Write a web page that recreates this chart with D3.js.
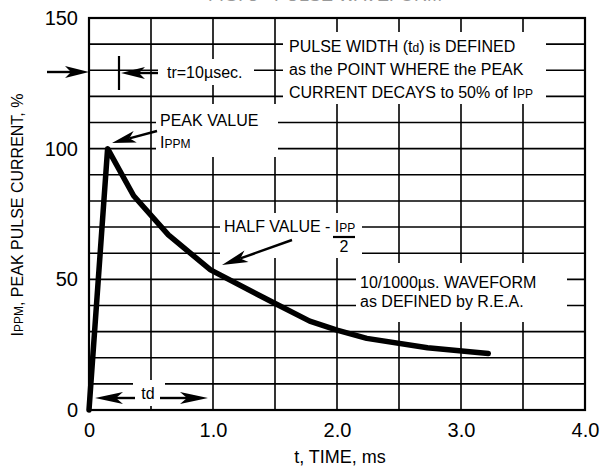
<!DOCTYPE html>
<html><head><meta charset="utf-8">
<script src="https://cdn.jsdelivr.net/npm/d3@7"></script>
<style>body{margin:0;background:#fff}svg{display:block;font-family:"Liberation Sans",Arial,sans-serif}</style>
</head><body><svg id="c" width="605" height="468"></svg>
<script>
const timeMs   = [0, 0.15, 0.36, 0.64, 0.98, 1.45, 1.78, 2.0, 2.24, 2.73, 3.22];
const current  = [0, 100, 82, 67, 53.6, 42, 34, 30.6, 27.4, 23.8, 21.6];
const xTicks = [0, 1, 2, 3, 4];
const xTickLabels = ["0", "1.0", "2.0", "3.0", "4.0"];
const yTicks = [0, 50, 100, 150];
const yTickLabels = ["0", "50", "100", "150"];
const xGrid = [0.5, 1, 1.5, 2, 2.5, 3, 3.5];
const yGrid = [10, 20, 30, 40, 50, 60, 70, 80, 90, 100, 110, 120, 130, 140];

const svg = d3.select("#c");
const x = d3.scaleLinear().domain([0, 4]).range([89, 585]);
const y = d3.scaleLinear().domain([0, 150]).range([410, 18]);

// cut-off title at top (as in the reference)
svg.append("text").attr("x", 325).attr("y", 1).attr("text-anchor", "middle")
  .attr("font-size", 18).attr("fill", "#999").text("FIG. 3 - PULSE WAVEFORM");

// grid
const g = svg.append("g").attr("stroke", "#000").attr("stroke-width", 1.6);
g.selectAll(".vx").data(xGrid).join("line")
  .attr("x1", d => x(d)).attr("x2", d => x(d)).attr("y1", y(150)).attr("y2", y(0));
g.selectAll(".hy").data(yGrid).join("line")
  .attr("y1", d => y(d)).attr("y2", d => y(d)).attr("x1", x(0)).attr("x2", x(4));

// white label boxes
const boxes = [
  [158, 59, 96, 26],    // tr
  [283, 32, 263, 72],   // pulse width
  [156, 104, 122, 53],  // peak value
  [220, 213, 142, 45],  // half value
  [356, 263, 211, 59],  // 10/1000
  [133, 380, 32, 26]    // td
];
svg.selectAll(".box").data(boxes).join("rect")
  .attr("x", d => d[0]).attr("y", d => d[1]).attr("width", d => d[2]).attr("height", d => d[3])
  .attr("fill", "#fff");

// border
svg.append("rect").attr("x", x(0)).attr("y", y(150)).attr("width", x(4) - x(0)).attr("height", y(0) - y(150))
  .attr("fill", "none").attr("stroke", "#000").attr("stroke-width", 2.2);

// curve
const line = d3.line().x((d, i) => x(timeMs[i])).y(d => y(d));
svg.append("path").attr("d", line(current)).attr("fill", "none").attr("stroke", "#000")
  .attr("stroke-width", 5.5).attr("stroke-linejoin", "round").attr("stroke-linecap", "round");

// axes
const xAxis = svg.append("g").attr("transform", `translate(0,${y(0) + 10})`)
  .call(d3.axisBottom(x).tickValues(xTicks).tickSize(0).tickFormat((d, i) => xTickLabels[i]));
xAxis.select(".domain").remove();
xAxis.selectAll("text").attr("font-size", 20).attr("fill", "#000").attr("font-family", "Liberation Sans, Arial, sans-serif");
const yAxis = svg.append("g").attr("transform", `translate(${x(0) - 8},0)`)
  .call(d3.axisLeft(y).tickValues(yTicks).tickSize(0).tickFormat((d, i) => yTickLabels[i]));
yAxis.select(".domain").remove();
yAxis.selectAll("text").attr("font-size", 20).attr("fill", "#000").attr("font-family", "Liberation Sans, Arial, sans-serif");

// axis titles
svg.append("text").attr("x", 340).attr("y", 463).attr("text-anchor", "middle").attr("font-size", 18).text("t, TIME, ms");
const yt = svg.append("text").attr("transform", "translate(23,215) rotate(-90)").attr("text-anchor", "middle").attr("font-size", 16);
yt.append("tspan").text("I");
yt.append("tspan").attr("font-size", 12).text("PPM");
yt.append("tspan").text(", PEAK PULSE CURRENT, %");

// arrow helper (notched head)
function arrow(x1, y1, x2, y2, len = 24, hw = 6) {
  const a = Math.atan2(y2 - y1, x2 - x1);
  const ca = Math.cos(a), sa = Math.sin(a);
  const bx = x2 - len * ca, by = y2 - len * sa;
  const nx = x2 - len * 0.75 * ca, ny = y2 - len * 0.75 * sa;
  svg.append("line").attr("x1", x1).attr("y1", y1).attr("x2", nx).attr("y2", ny)
    .attr("stroke", "#000").attr("stroke-width", 2.4);
  svg.append("path").attr("d",
    `M${x2},${y2}L${bx - hw * sa},${by + hw * ca}L${nx},${ny}L${bx + hw * sa},${by - hw * ca}Z`)
    .attr("fill", "#000");
}

// tr annotation
arrow(47, 72, 89, 72);
svg.append("line").attr("x1", 119).attr("x2", 119).attr("y1", 56).attr("y2", 90).attr("stroke", "#000").attr("stroke-width", 2.2);
arrow(158, 73, 121, 73);
svg.append("text").attr("x", 167).attr("y", 78).attr("font-size", 16).text("tr=10µsec.");

// pulse width
const pw = svg.append("text").attr("font-size", 16);
const l1 = pw.append("tspan").attr("x", 289).attr("y", 52);
l1.append("tspan").text("PULSE WIDTH (t");
l1.append("tspan").attr("font-size", 12).text("d");
l1.append("tspan").text(") is DEFINED");
pw.append("tspan").attr("x", 289).attr("y", 75).text("as the POINT WHERE the PEAK");
const l3 = pw.append("tspan").attr("x", 289).attr("y", 98);
l3.append("tspan").text("CURRENT DECAYS to 50% of I");
l3.append("tspan").attr("font-size", 12).text("PP");

// peak value
svg.append("text").attr("x", 160).attr("y", 126).attr("font-size", 16).text("PEAK VALUE");
const pk = svg.append("text").attr("x", 160).attr("y", 148).attr("font-size", 16);
pk.append("tspan").text("I");
pk.append("tspan").attr("font-size", 12).text("PPM");
arrow(157, 131, 112, 143, 24, 6);

// half value
const hv = svg.append("text").attr("x", 224).attr("y", 232).attr("font-size", 16);
hv.append("tspan").text("HALF VALUE - I");
hv.append("tspan").attr("font-size", 12).text("PP");
svg.append("line").attr("x1", 333).attr("x2", 355).attr("y1", 237).attr("y2", 237).attr("stroke", "#000").attr("stroke-width", 2.2);
svg.append("text").attr("x", 344).attr("y", 252).attr("text-anchor", "middle").attr("font-size", 16).text("2");
arrow(292, 240, 222, 265, 26, 6);

// waveform label
svg.append("text").attr("x", 360).attr("y", 288).attr("font-size", 16).text("10/1000µs. WAVEFORM");
svg.append("text").attr("x", 360).attr("y", 307).attr("font-size", 16).text("as DEFINED by R.E.A.");

// td
arrow(135, 398, 95, 398, 28, 6);
arrow(160, 398, 208, 398, 28, 6);
svg.append("text").attr("x", 148).attr("y", 399).attr("text-anchor", "middle").attr("font-size", 16).text("td");
</script></body></html>
